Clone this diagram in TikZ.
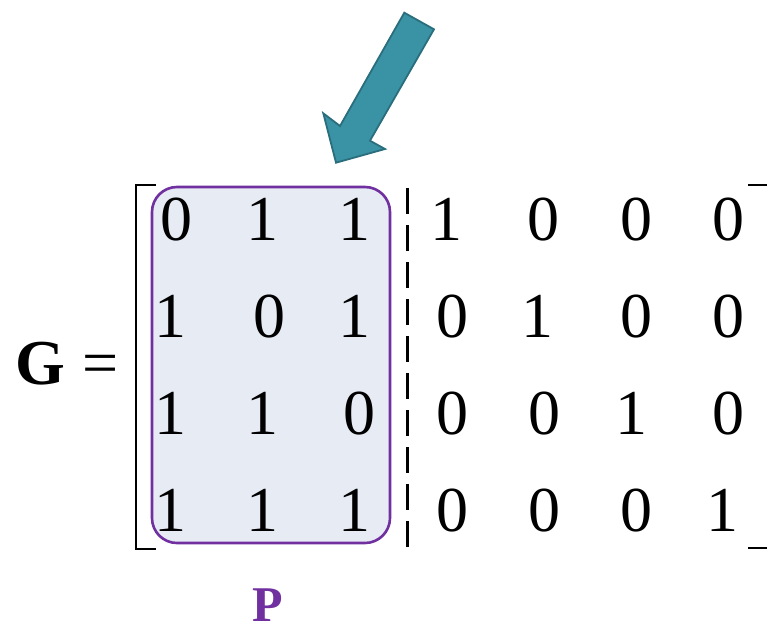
\documentclass[tikz,border=0pt]{standalone}
\usepackage{fontspec}
\setmainfont{Liberation Serif}
\definecolor{pviolet}{HTML}{7030A0}
\definecolor{pfill}{HTML}{E7EBF4}
\definecolor{tealfill}{HTML}{3A92A5}
\definecolor{tealline}{HTML}{2A6E7D}
\tikzset{
  digit/.style={font=\fontsize{64}{64}\selectfont, inner sep=0pt, anchor=base},
  bigsym/.style={font=\fontsize{64}{64}\selectfont, inner sep=0pt, anchor=base},
  pbox/.style={draw=pviolet, fill=pfill, line width=2.6pt, rounded corners=25pt},
  bthin/.style={draw=black, line width=1.4pt},
  bthick/.style={draw=black, line width=2.6pt},
  sep/.style={draw=black, line width=3pt, dash pattern=on 25.5pt off 11.5pt},
  bigarrow/.style={fill=tealfill, draw=tealline, line width=1.8pt, line join=miter},
}
\begin{document}
\begin{tikzpicture}[x=1pt,y=-1pt]
\useasboundingbox (0,0) rectangle (767,624);
% arrow
\draw[bigarrow] (404.3,12.7) -- (434,29.3) -- (370,140.7) -- (385,149) -- (336,162.7) -- (323.3,113.3) -- (340,126) -- cycle;
% P box
\draw[pbox] (152,187) rectangle (390,543);
% left bracket
\draw[bthin] (156,185) -- (136,185) -- (136,250);
\draw[bthick] (136,248) -- (136,505);
\draw[bthin] (136,503) -- (136,549) -- (156,549);
% right bracket (partially visible)
\draw[bthin] (748,185) -- (767,185);
\draw[bthin] (748,548) -- (767,548);
% separator
\draw[sep] (407.7,188) -- (407.7,548);
% G =
\node[bigsym, font=\fontsize{64}{64}\selectfont\bfseries] (G) at (40.5,384) {G};
\node[bigsym] (eq) at (100.5,384) {=};
% matrix entries
\node[digit] (m11) at (176,240) {0};
\node[digit] (m12) at (262,240) {1};
\node[digit] (m13) at (354,240) {1};
\node[digit] (m14) at (446,240) {1};
\node[digit] (m15) at (543,240) {0};
\node[digit] (m16) at (636,240) {0};
\node[digit] (m17) at (728,240) {0};
\node[digit] (m21) at (170,337) {1};
\node[digit] (m22) at (269,337) {0};
\node[digit] (m23) at (354,337) {1};
\node[digit] (m24) at (452,337) {0};
\node[digit] (m25) at (537,337) {1};
\node[digit] (m26) at (636,337) {0};
\node[digit] (m27) at (728,337) {0};
\node[digit] (m31) at (170,434) {1};
\node[digit] (m32) at (262,434) {1};
\node[digit] (m33) at (359,434) {0};
\node[digit] (m34) at (452,434) {0};
\node[digit] (m35) at (544,434) {0};
\node[digit] (m36) at (631,434) {1};
\node[digit] (m37) at (728,434) {0};
\node[digit] (m41) at (170,531) {1};
\node[digit] (m42) at (262,531) {1};
\node[digit] (m43) at (354,531) {1};
\node[digit] (m44) at (452,531) {0};
\node[digit] (m45) at (544,531) {0};
\node[digit] (m46) at (636,531) {0};
\node[digit] (m47) at (722,531) {1};
% P label
\node[inner sep=0pt, anchor=base, text=pviolet, font=\fontsize{50}{50}\selectfont\bfseries] (plabel) at (268,621) {P};
\end{tikzpicture}
\end{document}
